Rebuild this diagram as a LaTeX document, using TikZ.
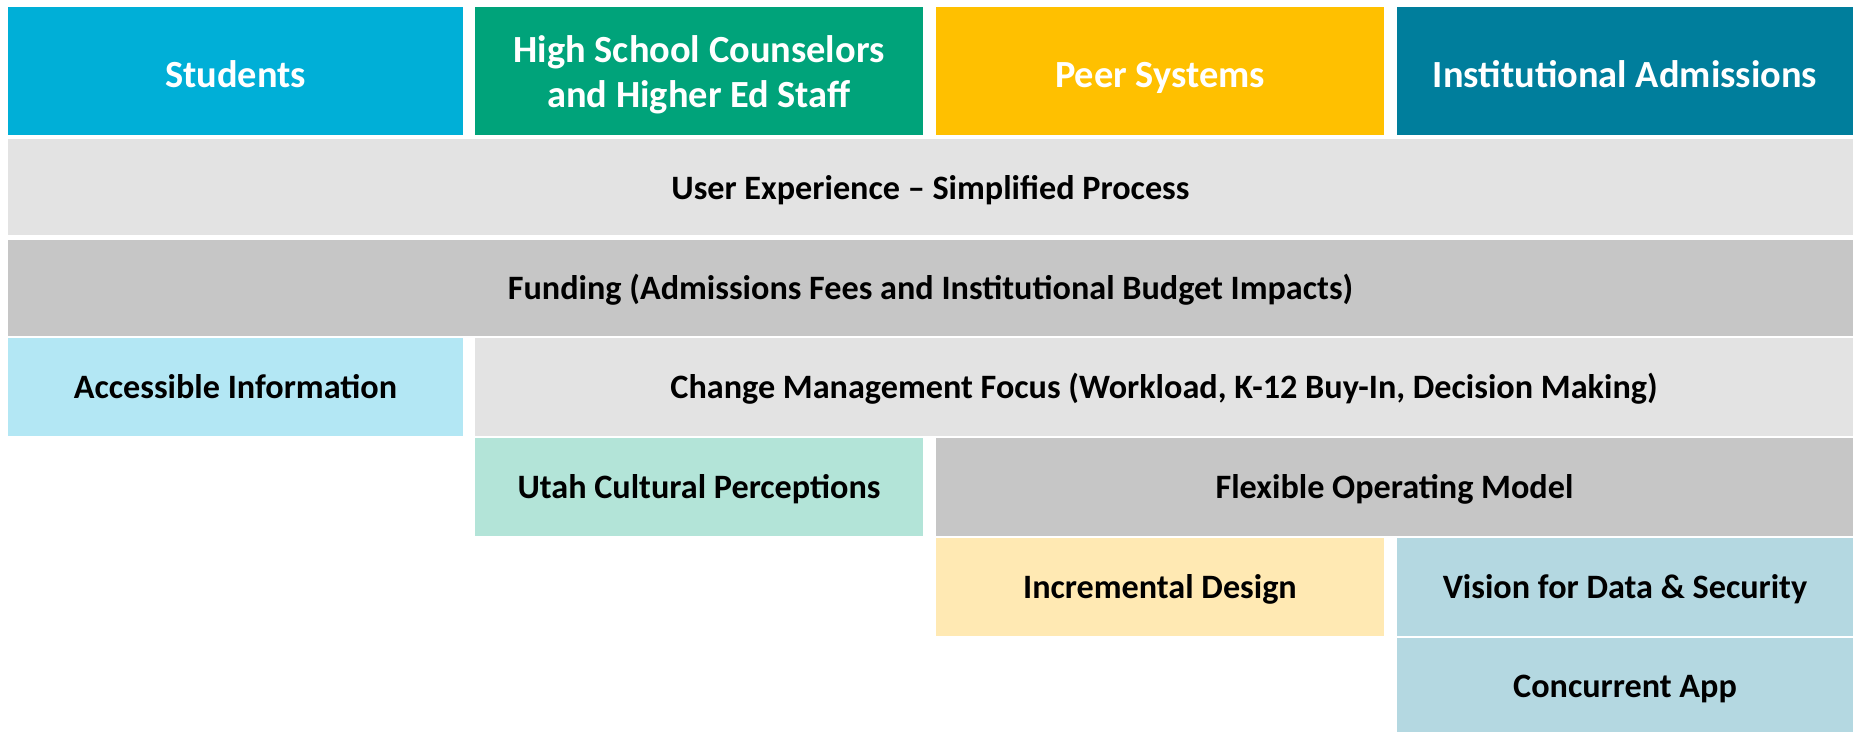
\documentclass[tikz,border=0pt]{standalone}
\usepackage{fontspec}
\setmainfont{Carlito}
\definecolor{cStu}{HTML}{00AFD7}
\definecolor{cHs}{HTML}{00A37A}
\definecolor{cPeer}{HTML}{FFC000}
\definecolor{cInst}{HTML}{007E9C}
\definecolor{gLight}{HTML}{E3E3E3}
\definecolor{gDark}{HTML}{C6C6C6}
\definecolor{cAcc}{HTML}{B3E7F4}
\definecolor{cUtah}{HTML}{B3E4D8}
\definecolor{cInc}{HTML}{FFE9B3}
\definecolor{cVis}{HTML}{B4D8E1}
\tikzset{
  cell/.style={draw=none, inner sep=0pt, anchor=base, font=\fontsize{34.2}{41}\selectfont\bfseries, text=black},
  head/.style={cell, font=\fontsize{38.4}{45}\selectfont\bfseries, text=white},
}
\begin{document}
\begin{tikzpicture}[x=1pt,y=-1pt]
\useasboundingbox (0,0) rectangle (1853,732);
% header row
\fill[cStu] (8,7) rectangle (463,135);
\node[head] (stu) at (235.5,87.5) {Students};
\fill[cHs] (475,7) rectangle (923,135);
\node[head, anchor=center, align=center] (hs) at (699,74.5) {High School Counselors\\and Higher Ed Staff};
\fill[cPeer] (936,7) rectangle (1384,135);
\node[head] (peer) at (1160,87.5) {Peer Systems};
\fill[cInst] (1397,7) rectangle (1853,135);
\node[head] (inst) at (1625,87.5) {Institutional Admissions};
% row 1
\fill[gLight] (8,139) rectangle (1853,235);
\node[cell] (ux) at (930.5,199) {User Experience – Simplified Process};
% row 2
\fill[gDark] (8,240) rectangle (1853,336);
\node[cell] (fund) at (930.5,299.5) {Funding (Admissions Fees and Institutional Budget Impacts)};
% row 3
\fill[cAcc] (8,338) rectangle (463,436);
\node[cell] (acc) at (235.5,398) {Accessible Information};
\fill[gLight] (475,338) rectangle (1853,436);
\node[cell] (chg) at (1164,398) {Change Management Focus (Workload, K-12 Buy-In, Decision Making)};
% row 4
\fill[cUtah] (475,438) rectangle (923,536);
\node[cell] (utah) at (699,498) {Utah Cultural Perceptions};
\fill[gDark] (936,438) rectangle (1853,536);
\node[cell] (flex) at (1394.5,498) {Flexible Operating Model};
% row 5
\fill[cInc] (936,538) rectangle (1384,636);
\node[cell] (inc) at (1160,598) {Incremental Design};
\fill[cVis] (1397,538) rectangle (1853,636);
\node[cell] (vis) at (1625,598) {Vision for Data \& Security};
% row 6
\fill[cVis] (1397,638) rectangle (1853,732);
\node[cell] (conc) at (1625,697) {Concurrent App};
\end{tikzpicture}
\end{document}
